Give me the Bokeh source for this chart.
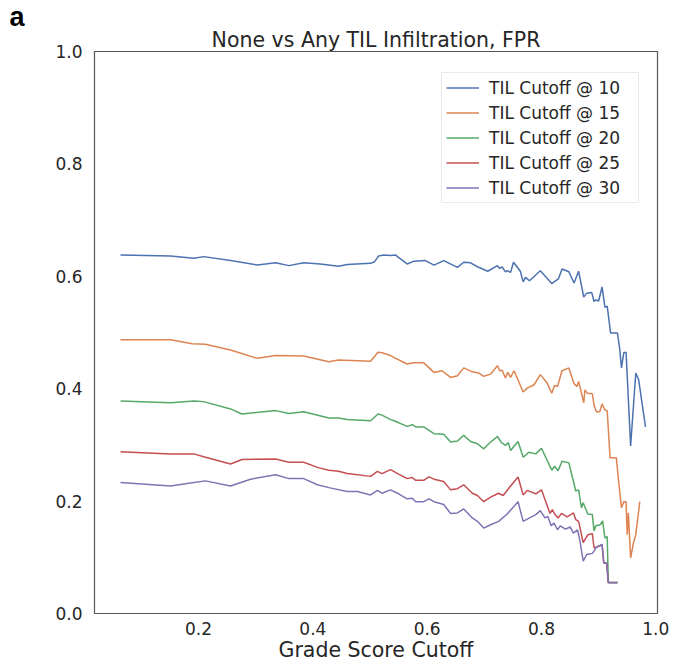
from bokeh.plotting import figure
from bokeh.models import Range1d, FixedTicker, Legend, LegendItem, Title, CustomJSTickFormatter
from bokeh.embed import file_html
from bokeh.resources import INLINE

title_text = "None vs Any TIL Infiltration, FPR"
x_label = "Grade Score Cutoff"
panel_letter = "a"
series_names = ["TIL Cutoff @ 10", "TIL Cutoff @ 15", "TIL Cutoff @ 20",
                "TIL Cutoff @ 25", "TIL Cutoff @ 30"]
x_ticks = [0.2, 0.4, 0.6, 0.8, 1.0]
y_ticks = [0.0, 0.2, 0.4, 0.6, 0.8, 1.0]

til10_x = [0.0635, 0.151, 0.192, 0.209, 0.256, 0.303, 0.335, 0.358, 0.384, 0.413,
           0.445, 0.460, 0.501, 0.508, 0.515, 0.524, 0.536, 0.545, 0.548, 0.565,
           0.577, 0.597, 0.612, 0.629, 0.653, 0.664, 0.676, 0.688, 0.706, 0.723,
           0.727, 0.731, 0.737, 0.740, 0.746, 0.751, 0.763, 0.768, 0.772, 0.779,
           0.798, 0.818, 0.830, 0.836, 0.848, 0.857, 0.865, 0.874, 0.879, 0.888,
           0.892, 0.895, 0.900, 0.906, 0.911, 0.915, 0.921, 0.933, 0.937, 0.940,
           0.944, 0.948, 0.956, 0.965, 0.970, 0.982]
til10_y = [0.638, 0.636, 0.632, 0.635, 0.628, 0.620, 0.624, 0.619, 0.624, 0.622,
           0.618, 0.621, 0.623, 0.626, 0.636, 0.638, 0.637, 0.638, 0.635, 0.622,
           0.627, 0.628, 0.620, 0.628, 0.616, 0.625, 0.624, 0.617, 0.609, 0.619,
           0.614, 0.617, 0.608, 0.610, 0.607, 0.625, 0.609, 0.590, 0.598, 0.592,
           0.610, 0.587, 0.596, 0.613, 0.608, 0.588, 0.609, 0.563, 0.570, 0.571,
           0.555, 0.558, 0.556, 0.581, 0.545, 0.547, 0.499, 0.499, 0.470, 0.437,
           0.464, 0.465, 0.298, 0.428, 0.416, 0.332]

til15_x = [0.0635, 0.151, 0.189, 0.212, 0.256, 0.303, 0.335, 0.384, 0.428, 0.445,
           0.501, 0.514, 0.521, 0.536, 0.545, 0.565, 0.577, 0.594, 0.612, 0.626,
           0.641, 0.653, 0.664, 0.679, 0.690, 0.699, 0.711, 0.723, 0.727, 0.731,
           0.737, 0.741, 0.746, 0.752, 0.768, 0.775, 0.787, 0.798, 0.810, 0.818,
           0.823, 0.828, 0.836, 0.848, 0.857, 0.862, 0.865, 0.874, 0.876, 0.880,
           0.889, 0.892, 0.896, 0.902, 0.906, 0.911, 0.915, 0.920, 0.931, 0.935,
           0.940, 0.944, 0.948, 0.950, 0.952, 0.956, 0.961, 0.965, 0.972]
til15_y = [0.487, 0.487, 0.480, 0.479, 0.469, 0.454, 0.459, 0.458, 0.448, 0.451,
           0.449, 0.465, 0.464, 0.459, 0.454, 0.444, 0.446, 0.446, 0.429, 0.432,
           0.420, 0.423, 0.437, 0.430, 0.428, 0.422, 0.426, 0.441, 0.432, 0.433,
           0.419, 0.429, 0.420, 0.432, 0.394, 0.401, 0.407, 0.425, 0.410, 0.392,
           0.406, 0.404, 0.432, 0.437, 0.409, 0.404, 0.413, 0.375, 0.398, 0.392,
           0.391, 0.371, 0.359, 0.359, 0.373, 0.362, 0.361, 0.277, 0.277, 0.235,
           0.188, 0.199, 0.199, 0.140, 0.179, 0.099, 0.126, 0.140, 0.199]

til20_x = [0.0635, 0.151, 0.192, 0.209, 0.256, 0.276, 0.335, 0.358, 0.384, 0.428,
           0.445, 0.460, 0.501, 0.514, 0.521, 0.536, 0.542, 0.565, 0.574, 0.580,
           0.594, 0.612, 0.629, 0.641, 0.653, 0.664, 0.676, 0.688, 0.699, 0.711,
           0.723, 0.730, 0.737, 0.742, 0.746, 0.759, 0.768, 0.778, 0.790, 0.800,
           0.818, 0.823, 0.829, 0.836, 0.848, 0.860, 0.865, 0.870, 0.873, 0.881,
           0.889, 0.892, 0.895, 0.903, 0.907, 0.911, 0.915, 0.917, 0.933]
til20_y = [0.378, 0.375, 0.378, 0.377, 0.364, 0.355, 0.361, 0.356, 0.359, 0.348,
           0.348, 0.345, 0.343, 0.355, 0.353, 0.345, 0.343, 0.333, 0.336, 0.332,
           0.332, 0.320, 0.319, 0.305, 0.307, 0.317, 0.306, 0.302, 0.293, 0.305,
           0.315, 0.304, 0.299, 0.304, 0.290, 0.306, 0.278, 0.287, 0.284, 0.294,
           0.255, 0.262, 0.254, 0.271, 0.268, 0.218, 0.220, 0.188, 0.197, 0.177,
           0.176, 0.147, 0.156, 0.158, 0.165, 0.134, 0.137, 0.055, 0.055]

til25_x = [0.0635, 0.151, 0.192, 0.209, 0.256, 0.276, 0.335, 0.358, 0.384, 0.408,
           0.428, 0.445, 0.460, 0.501, 0.513, 0.521, 0.536, 0.550, 0.565, 0.574,
           0.580, 0.594, 0.603, 0.612, 0.629, 0.641, 0.653, 0.664, 0.679, 0.688,
           0.699, 0.711, 0.725, 0.733, 0.746, 0.759, 0.768, 0.775, 0.790, 0.800,
           0.815, 0.819, 0.823, 0.829, 0.835, 0.845, 0.856, 0.860, 0.865, 0.873,
           0.881, 0.889, 0.892, 0.896, 0.903, 0.906, 0.909, 0.914, 0.917, 0.933]
til25_y = [0.288, 0.284, 0.284, 0.279, 0.266, 0.274, 0.275, 0.269, 0.269, 0.260,
           0.255, 0.253, 0.249, 0.244, 0.253, 0.249, 0.256, 0.248, 0.240, 0.242,
           0.237, 0.237, 0.243, 0.239, 0.235, 0.220, 0.222, 0.229, 0.214, 0.210,
           0.199, 0.207, 0.214, 0.210, 0.227, 0.243, 0.211, 0.219, 0.213, 0.220,
           0.178, 0.185, 0.177, 0.170, 0.178, 0.172, 0.179, 0.167, 0.164, 0.126,
           0.140, 0.142, 0.117, 0.118, 0.121, 0.123, 0.090, 0.090, 0.055, 0.055]

til30_x = [0.0635, 0.151, 0.186, 0.212, 0.256, 0.291, 0.335, 0.358, 0.384, 0.408,
           0.428, 0.460, 0.478, 0.501, 0.513, 0.521, 0.536, 0.550, 0.565, 0.574,
           0.580, 0.594, 0.603, 0.612, 0.629, 0.641, 0.653, 0.664, 0.679, 0.688,
           0.699, 0.711, 0.725, 0.740, 0.759, 0.768, 0.775, 0.790, 0.798, 0.806,
           0.811, 0.817, 0.822, 0.828, 0.833, 0.842, 0.850, 0.856, 0.863, 0.867,
           0.873, 0.879, 0.889, 0.892, 0.896, 0.903, 0.906, 0.909, 0.914, 0.917,
           0.933]
til30_y = [0.233, 0.227, 0.232, 0.236, 0.227, 0.239, 0.247, 0.240, 0.240, 0.229,
           0.224, 0.217, 0.217, 0.211, 0.219, 0.214, 0.220, 0.213, 0.204, 0.205,
           0.199, 0.199, 0.204, 0.199, 0.194, 0.178, 0.179, 0.186, 0.170, 0.164,
           0.152, 0.158, 0.164, 0.177, 0.199, 0.164, 0.168, 0.176, 0.183, 0.170,
           0.173, 0.156, 0.161, 0.149, 0.156, 0.150, 0.154, 0.143, 0.149, 0.131,
           0.093, 0.105, 0.107, 0.111, 0.118, 0.121, 0.123, 0.090, 0.090, 0.0545,
           0.0545]

series_x = [til10_x, til15_x, til20_x, til25_x, til30_x]
series_y = [til10_y, til15_y, til20_y, til25_y, til30_y]
colors = ["#4C72B0", "#DD8452", "#55A868", "#C44E52", "#8172B3"]

FONT = "DejaVu Sans"
TEXT = "#262626"

p = figure(width=676, height=664, output_backend="svg", toolbar_location=None,
           x_range=Range1d(0.018, 1.003), y_range=Range1d(0.0, 1.0),
           min_border_left=94, min_border_right=19, min_border_top=51,
           min_border_bottom=50)

# outermost row: the panel letter (uses the plot's own title slot)
p.title = Title(text=panel_letter, align="left", offset=-85, standoff=-13,
                text_font="Liberation Sans", text_font_size="27px",
                text_font_style="bold", text_color="#000000")

# chart title, directly above the frame
main_title = Title(text=title_text, align="center", offset=8, standoff=0,
                   text_font=FONT, text_font_size="20.5px",
                   text_font_style="normal", text_color=TEXT)
p.add_layout(main_title, "above")

p.xgrid.visible = False
p.ygrid.visible = False
p.outline_line_color = "#555555"
p.outline_line_width = 1.2
p.outline_line_alpha = 1.0

for ax in (p.xaxis[0], p.yaxis[0]):
    ax.axis_line_color = None
    ax.major_tick_line_color = None
    ax.minor_tick_line_color = None
    ax.major_tick_out = 0
    ax.major_tick_in = 0
    ax.major_label_text_font = FONT
    ax.major_label_text_font_size = "17px"
    ax.major_label_text_color = TEXT

p.xaxis.ticker = FixedTicker(ticks=x_ticks)
p.yaxis.ticker = FixedTicker(ticks=y_ticks)
p.xaxis.formatter = CustomJSTickFormatter(code="return tick.toFixed(1);")
p.yaxis.formatter = CustomJSTickFormatter(code="return tick.toFixed(1);")
p.xaxis.major_label_standoff = 8
p.yaxis.major_label_standoff = 12

p.xaxis.axis_label = x_label
p.xaxis.axis_label_text_font = FONT
p.xaxis.axis_label_text_font_size = "20.5px"
p.xaxis.axis_label_text_font_style = "normal"
p.xaxis.axis_label_text_color = TEXT
p.xaxis.axis_label_standoff = 0

items = []
for name, xs, ys, c in zip(series_names, series_x, series_y, colors):
    r = p.line(xs, ys, line_color=c, line_width=1.5)
    items.append(LegendItem(label=name, renderers=[r]))

legend = Legend(items=items, location=(347, 410))
legend.margin = 0
legend.padding = 4
legend.spacing = 4
legend.label_height = 21
legend.glyph_height = 21
legend.glyph_width = 33
legend.label_standoff = 10
legend.label_width = 145
legend.label_text_font = FONT
legend.label_text_font_size = "17px"
legend.label_text_color = TEXT
legend.border_line_color = "#d6d6d6"
legend.border_line_width = 1
legend.background_fill_color = "white"
legend.background_fill_alpha = 0.9
p.add_layout(legend, "center")

open("out.html", "w").write(file_html(p, INLINE))
